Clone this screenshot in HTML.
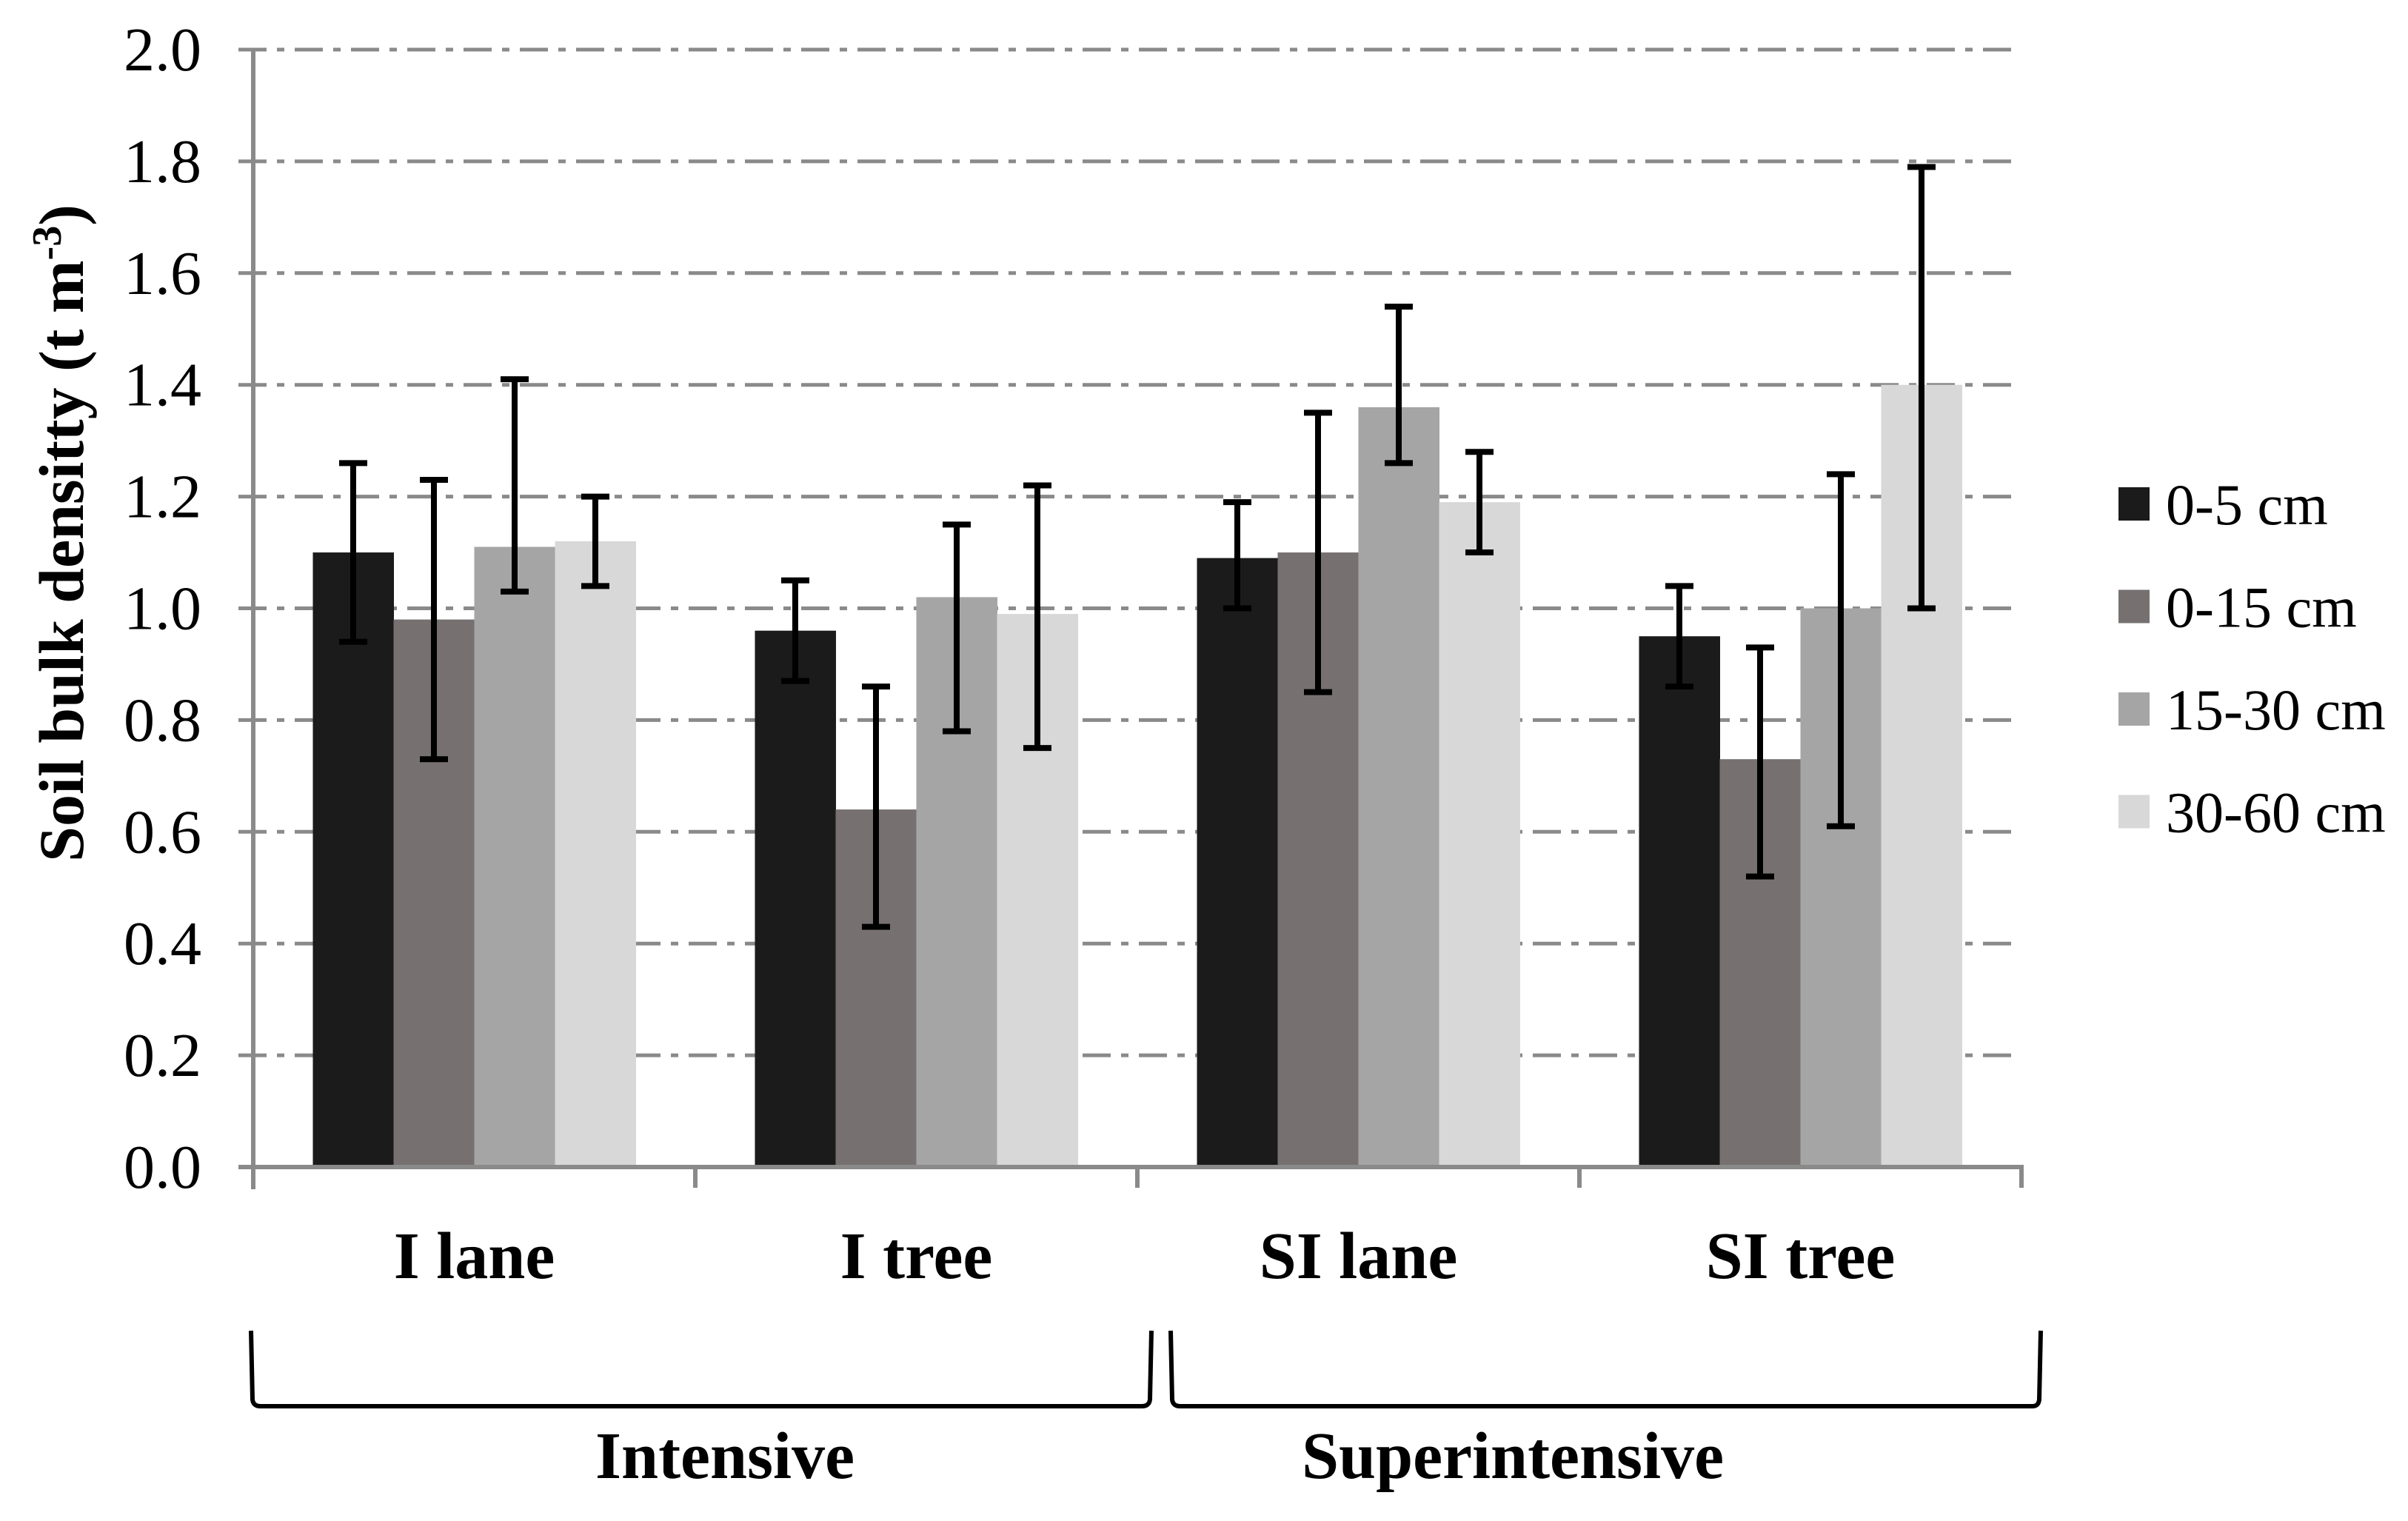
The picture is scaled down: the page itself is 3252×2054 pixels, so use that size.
<!DOCTYPE html>
<html><head><meta charset="utf-8"><style>
html,body{margin:0;padding:0;background:#fff;}
svg{display:block;}
text{font-family:"Liberation Serif",serif;}
</style></head><body>
<svg id="chart" width="3252" height="2054" viewBox="0 0 3252 2054" xmlns="http://www.w3.org/2000/svg">
<g id="grid"></g>
<g id="bars"></g>
<g id="errs"></g>
<g id="axes"></g>
<text transform="translate(112,720) rotate(-90)" text-anchor="middle" font-weight="bold" font-size="86">Soil bulk densitty (t m<tspan dy="-30" font-size="56">-3</tspan><tspan dy="30">)</tspan></text>
<g id="brackets" fill="none" stroke="#000" stroke-width="6">
<path d="M339 1797 L341 1890 Q342 1899 352 1899 L1542 1899 Q1552 1899 1553 1890 L1555 1797"/>
<path d="M1581 1797 L1583 1890 Q1584 1899 1594 1899 L2745 1899 Q2753 1899 2754 1890 L2756 1797"/>
</g>
<text x="979" y="1996" text-anchor="middle" font-weight="bold" font-size="90">Intensive</text>
<text x="2043" y="1996" text-anchor="middle" font-weight="bold" font-size="90">Superintensive</text>
<g id="legend"></g>
</svg>
<script>
const categories = ["I lane", "I tree", "SI lane", "SI tree"];
const seriesNames = ["0-5 cm", "0-15 cm", "15-30 cm", "30-60 cm"];
const s0 = [1.10, 0.96, 1.09, 0.95];
const s1 = [0.98, 0.64, 1.10, 0.73];
const s2 = [1.11, 1.02, 1.36, 1.00];
const s3 = [1.12, 0.99, 1.19, 1.40];
const lo0 = [0.94, 0.87, 1.00, 0.86];
const hi0 = [1.26, 1.05, 1.19, 1.04];
const lo1 = [0.73, 0.43, 0.85, 0.52];
const hi1 = [1.23, 0.86, 1.35, 0.93];
const lo2 = [1.03, 0.78, 1.26, 0.61];
const hi2 = [1.41, 1.15, 1.54, 1.24];
const lo3 = [1.04, 0.75, 1.10, 1.00];
const hi3 = [1.20, 1.22, 1.28, 1.79];
const yTicks = ["0.0","0.2","0.4","0.6","0.8","1.0","1.2","1.4","1.6","1.8","2.0"];
const colors = ["#1b1b1b", "#767170", "#a5a5a5", "#d8d8d8"];

const NS = "http://www.w3.org/2000/svg";
const X0 = 342, X1 = 2730, Y0 = 1576, Y1 = 67, YMAX = 2.0;
const y = v => Y0 - (v / YMAX) * (Y0 - Y1);
const catW = (X1 - X0) / categories.length;
const barW = 109;
const xBar = (ci, si) => X0 + catW * ci + catW / 2 - 2 * barW + si * barW;
function mk(tag, attrs, parent) {
  const el = document.createElementNS(NS, tag);
  for (const k in attrs) el.setAttribute(k, attrs[k]);
  parent.appendChild(el);
  return el;
}
const grid = document.getElementById('grid'), bars = document.getElementById('bars'),
  errs = document.getElementById('errs'), axes = document.getElementById('axes'), legend = document.getElementById('legend');
const series = [s0, s1, s2, s3], los = [lo0, lo1, lo2, lo3], his = [hi0, hi1, hi2, hi3];

yTicks.forEach(t => {
  const v = parseFloat(t), yy = y(v);
  if (v > 0) {
    const g = mk('line', {x1: 322, x2: X1, y1: yy, y2: yy, stroke: '#8a8a8a', 'stroke-width': 5, 'stroke-dasharray': '38 14 10 14'}, grid);
    
    
  }
  const tx = mk('text', {x: 272, y: yy + 28, 'text-anchor': 'end', 'font-size': 84}, axes);
  tx.textContent = t;
  
  
});

categories.forEach((c, ci) => {
  series.forEach((s, si) => {
    const b = mk('rect', {x: xBar(ci, si), y: y(s[ci]), width: barW + 0.5, height: Y0 - y(s[ci]), fill: colors[si]}, bars);
    
    
    const cx = xBar(ci, si) + barW / 2;
    const e = mk('path', {d: `M${cx - 19} ${y(his[si][ci])} H${cx + 19} M${cx} ${y(his[si][ci])} V${y(los[si][ci])} M${cx - 19} ${y(los[si][ci])} H${cx + 19}`, stroke: '#000', 'stroke-width': 8, fill: 'none'}, errs);
    
    
  });
  const lbl = mk('text', {x: X0 + catW * ci + catW / 2, y: 1726, 'text-anchor': 'middle', 'font-weight': 'bold', 'font-size': 90}, axes);
  lbl.textContent = c;
  
  
});

const yAx = mk('line', {x1: X0, x2: X0, y1: Y1, y2: Y0 + 30, stroke: '#8a8a8a', 'stroke-width': 6}, axes);


const xAx = mk('line', {x1: 322, x2: X1 + 3, y1: Y0, y2: Y0, stroke: '#8a8a8a', 'stroke-width': 6}, axes);


for (let i = 1; i <= categories.length; i++) {
  const tk = mk('line', {x1: X0 + catW * i, x2: X0 + catW * i, y1: Y0, y2: Y0 + 28, stroke: '#8a8a8a', 'stroke-width': 6}, axes);
  
  
}

seriesNames.forEach((n, i) => {
  const cy = 680 + i * 138.5;
  const sq = mk('rect', {x: 2861, y: cy - 22, width: 42, height: 45, fill: colors[i]}, legend);
  
  
  const t = mk('text', {x: 2925, y: cy + 28, 'font-size': 78}, legend);
  t.textContent = n;
  
  
});
</script>
</body></html>
